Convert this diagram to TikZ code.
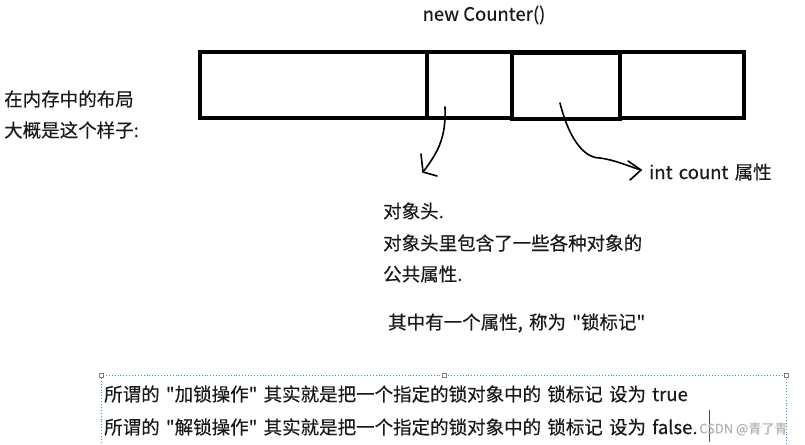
\documentclass[tikz,border=0pt]{standalone}
\usepackage{fontspec}
\setmainfont[Ligatures=TeXOff,FakeBold=0.35]{Noto Sans CJK SC}
\newcommand\widesp{\spaceskip=6.2pt\relax}
\begin{document}
\begin{tikzpicture}[x=1pt,y=-1pt,
  txt/.style={anchor=west,inner sep=0pt,font=\fontsize{18.5}{20}\selectfont\widesp,text=black!90},
  cell/.style={draw=black,line width=3.6pt,minimum height=66pt,inner sep=0pt,anchor=north west},
  hand/.style={line width=1.6pt,line cap=round,line join=round},
  sel/.style={draw=blue!35!cyan!60!gray,dotted,line width=0.9pt}]
\useasboundingbox (0,0) rectangle (805,444);
% memory layout
\node[cell,minimum width=227pt] (c1) at (198,50) {};
\node[cell,minimum width=85pt] (c2) at (425,50) {};
\node[cell,minimum width=108pt,line width=4.2pt] (c3) at (510,50.5) {};
\node[cell,minimum width=124pt] (c4) at (618,50) {};
% texts
\node[anchor=center,inner sep=0pt,font=\fontsize{18.5}{20}\selectfont,text=black!90] (title) at (484,15) {new Counter()};
\node[txt] (l1) at (4,99) {在内存中的布局};
\node[txt] (l2) at (4,130) {大概是这个样子:};
\node[txt] (h1) at (383,211) {对象头.};
\node[txt] (h2) at (383,243) {对象头里包含了一些各种对象的};
\node[txt] (h3) at (383,274) {公共属性.};
\node[txt] (h4) at (388,323) {其中有一个属性, 称为 "锁标记"};
\node[txt] (ic) at (649,172) {int count 属性};
% hand-drawn arrows
\coordinate (a1s) at (445,107);
\coordinate (a1e) at (423,172);
\draw[hand] (a1s) .. controls (446,135) and (440,150) .. (a1e);
\draw[hand] (421,154) -- (a1e) -- (437,176);
\coordinate (a2s) at (560,103);
\coordinate (a2e) at (641,170);
\draw[hand] (a2s) .. controls (568,135) and (582,158) .. (600,158) .. controls (615,160) and (628,166) .. (a2e);
\draw[hand] (628,161) -- (a2e) -- (630,180);
% selected text box
\draw[sel] (786,444) -- (786,375) -- (101,375) -- (101,444);
\foreach \hx in {101,444,786}{\draw[gray,line width=0.5pt,fill=white] (\hx-1.8,373.2) rectangle (\hx+1.8,376.8);}
\node[txt] (b1) at (104,394) {所谓的 "加锁操作" 其实就是把一个指定的锁对象中的 锁标记 设为 true};
\node[txt] (b2) at (104,427) {所谓的 "解锁操作" 其实就是把一个指定的锁对象中的 锁标记 设为 false.};
\draw[black!70,line width=0.9pt] (709,410) -- (709,442);
\node[anchor=west,inner sep=0pt,font=\fontsize{13}{14}\selectfont,text=gray!60] (wm) at (699,429) {CSDN @青了青};
\end{tikzpicture}
\end{document}
